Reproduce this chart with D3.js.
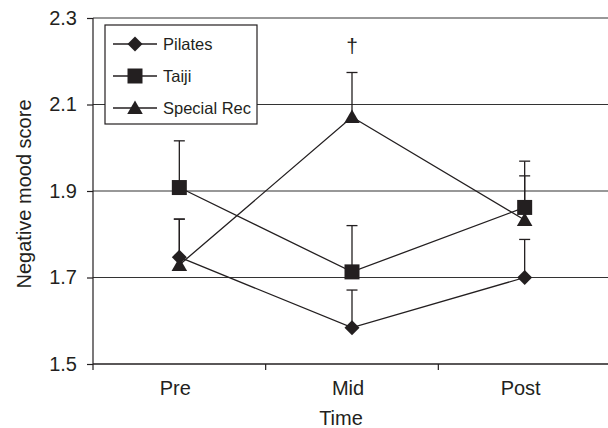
<!DOCTYPE html>
<html>
<head>
<meta charset="utf-8">
<script src="https://cdn.jsdelivr.net/npm/d3@7"></script>
<style>
  body { margin: 0; background: #fff; }
  text { font-family: "Liberation Sans", Arial, sans-serif; fill: #231f20; }
</style>
</head>
<body>
<div id="chart"></div>
<script>
// data
const times = ["Pre", "Mid", "Post"];
const seriesNames = ["Pilates", "Taiji", "Special Rec"];
const pilates = [1.747, 1.584, 1.700];
const pilatesErr = [0.088, 0.087, 0.088];
const taiji = [1.908, 1.713, 1.862];
const taijiErr = [0.108, 0.107, 0.107];
const specialRec = [1.729, 2.071, 1.833];
const specialRecErr = [0.106, 0.103, 0.102];
const yTicks = [1.5, 1.7, 1.9, 2.1, 2.3];

const svgWidth = 608, svgHeight = 428;
const margin = {top: 18, right: -3, bottom: 64, left: 93};
const width = svgWidth - margin.left - margin.right,
      height = svgHeight - margin.top - margin.bottom;

const svg = d3.select("#chart").append("svg")
  .attr("width", svgWidth)
  .attr("height", svgHeight);

const g = svg.append("g")
  .attr("transform", `translate(${margin.left},${margin.top})`);

const x = d3.scaleBand().domain(times).range([0, width]).padding(0);
const y = d3.scaleLinear().domain([1.5, 2.3]).range([height, 0]);
const cx = t => x(t) + x.bandwidth() / 2;

const ink = "#231f20";
const fs = 20;

// gridlines
g.selectAll(".grid").data(yTicks.slice(1)).enter().append("line")
  .attr("x1", 0).attr("x2", width)
  .attr("y1", d => y(d)).attr("y2", d => y(d))
  .attr("stroke", "#333").attr("stroke-width", 1.2);

// y axis
const yAxis = g.append("g")
  .call(d3.axisLeft(y).tickValues(yTicks).tickFormat(d3.format(".1f")).tickSize(6).tickPadding(10));
yAxis.select(".domain").remove();
yAxis.selectAll("line").attr("stroke", ink).attr("stroke-width", 1.2);
yAxis.selectAll("text").attr("font-size", fs).attr("fill", ink)
  .attr("font-family", "Liberation Sans, Arial, sans-serif");
g.append("line").attr("x1", 0).attr("x2", 0).attr("y1", 0).attr("y2", height + 6)
  .attr("stroke", ink).attr("stroke-width", 1.2);

// x axis
g.append("line").attr("x1", 0).attr("x2", width).attr("y1", height).attr("y2", height)
  .attr("stroke", ink).attr("stroke-width", 1.3);
g.selectAll(".xtick").data(times.slice(1)).enter().append("line")
  .attr("x1", d => x(d)).attr("x2", d => x(d))
  .attr("y1", height).attr("y2", height + 6)
  .attr("stroke", ink).attr("stroke-width", 1.2);
g.selectAll(".xlabel").data(times).enter().append("text")
  .attr("x", d => cx(d) - 4).attr("y", height + 31)
  .attr("text-anchor", "middle").attr("font-size", fs)
  .text(d => d);

// axis titles
g.append("text")
  .attr("x", cx("Mid") - 11).attr("y", height + 61)
  .attr("text-anchor", "middle").attr("font-size", fs)
  .text("Time");
svg.append("text")
  .attr("transform", `translate(31, 194) rotate(-90)`)
  .attr("text-anchor", "middle").attr("font-size", fs)
  .text("Negative mood score");

const series = [
  {name: seriesNames[0], values: pilates, err: pilatesErr, symbol: d3.symbolSquare, size: 112, rot: 45, dy: 0},
  {name: seriesNames[1], values: taiji, err: taijiErr, symbol: d3.symbolSquare, size: 225, rot: 0, dy: 0},
  {name: seriesNames[2], values: specialRec, err: specialRecErr, symbol: d3.symbolTriangle, size: 105, rot: 0, dy: 1.5}
];

const line = d3.line().x((d, i) => cx(times[i])).y(d => y(d));

// lines
series.forEach(s => {
  g.append("path").datum(s.values)
    .attr("d", line).attr("fill", "none")
    .attr("stroke", ink).attr("stroke-width", 1.3);
});

// error bars (upper only)
series.forEach(s => {
  s.values.forEach((v, i) => {
    const px = cx(times[i]);
    g.append("line").attr("x1", px).attr("x2", px)
      .attr("y1", y(v)).attr("y2", y(v + s.err[i]))
      .attr("stroke", ink).attr("stroke-width", 1.3);
    g.append("line").attr("x1", px - 5.5).attr("x2", px + 5.5)
      .attr("y1", y(v + s.err[i])).attr("y2", y(v + s.err[i]))
      .attr("stroke", ink).attr("stroke-width", 1.3);
  });
});

// markers
series.forEach(s => {
  g.selectAll(null).data(s.values).enter().append("path")
    .attr("d", d3.symbol().type(s.symbol).size(s.size))
    .attr("transform", (d, i) => `translate(${cx(times[i])},${y(d) + s.dy}) rotate(${s.rot})`)
    .attr("fill", ink);
});

// significance mark
g.append("text")
  .attr("x", cx("Mid")).attr("y", y(2.3) + 35)
  .attr("text-anchor", "middle").attr("font-size", 21)
  .text("†");

// legend
const legend = svg.append("g").attr("transform", "translate(105,25)");
legend.append("rect")
  .attr("width", 152).attr("height", 99)
  .attr("fill", "#fff").attr("stroke", ink).attr("stroke-width", 1.2);
series.forEach((s, i) => {
  const ly = 19 + i * 32;
  legend.append("line").attr("x1", 8).attr("x2", 52).attr("y1", ly).attr("y2", ly)
    .attr("stroke", ink).attr("stroke-width", 1.3);
  legend.append("path")
    .attr("d", d3.symbol().type(s.symbol).size(s.size))
    .attr("transform", `translate(30,${ly + s.dy}) rotate(${s.rot})`)
    .attr("fill", ink);
  legend.append("text")
    .attr("x", 58).attr("y", ly + 6)
    .attr("font-size", 16.5)
    .text(s.name);
});
</script>
</body>
</html>
